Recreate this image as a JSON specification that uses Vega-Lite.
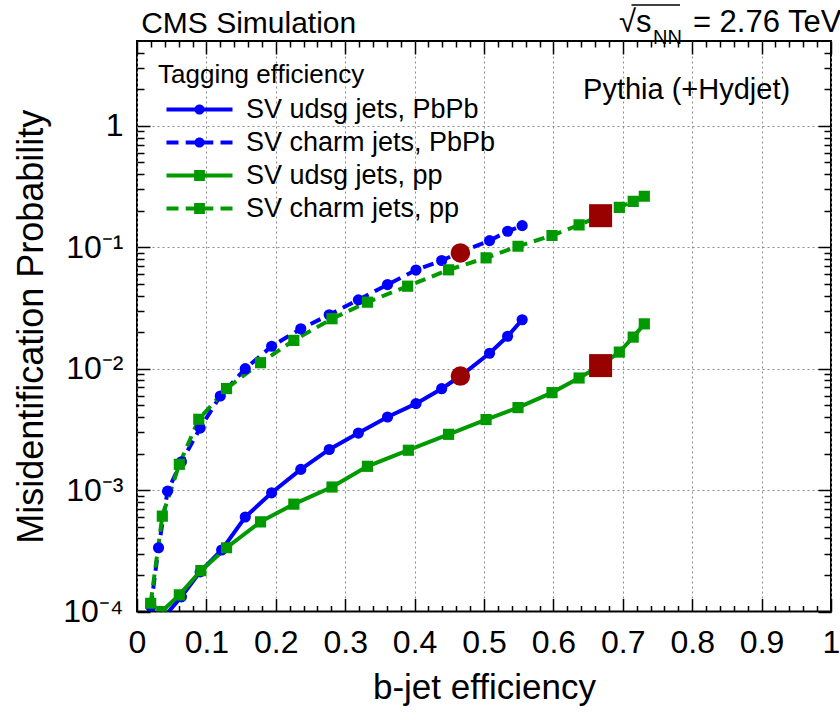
{
  "$schema": "https://vega.github.io/schema/vega-lite/v6.json",
  "width": 694,
  "height": 570.5,
  "autosize": {"type": "none"},
  "padding": {"left": 137, "top": 41, "right": 9, "bottom": 102.5},
  "background": "white",
  "config": {
    "view": {"stroke": "black", "strokeWidth": 2},
    "font": "Liberation Sans"
  },
  "datasets": {
    "curves": [
      {"series": "SV udsg jets, PbPb", "eff": 0.035, "mis": 0.000085},
      {"series": "SV udsg jets, PbPb", "eff": 0.064, "mis": 0.000132},
      {"series": "SV udsg jets, PbPb", "eff": 0.091, "mis": 0.000212},
      {"series": "SV udsg jets, PbPb", "eff": 0.122, "mis": 0.000321},
      {"series": "SV udsg jets, PbPb", "eff": 0.156, "mis": 0.000600},
      {"series": "SV udsg jets, PbPb", "eff": 0.194, "mis": 0.000950},
      {"series": "SV udsg jets, PbPb", "eff": 0.236, "mis": 0.00148},
      {"series": "SV udsg jets, PbPb", "eff": 0.277, "mis": 0.00216},
      {"series": "SV udsg jets, PbPb", "eff": 0.319, "mis": 0.00295},
      {"series": "SV udsg jets, PbPb", "eff": 0.361, "mis": 0.00400},
      {"series": "SV udsg jets, PbPb", "eff": 0.402, "mis": 0.00515},
      {"series": "SV udsg jets, PbPb", "eff": 0.439, "mis": 0.00684},
      {"series": "SV udsg jets, PbPb", "eff": 0.466, "mis": 0.00870},
      {"series": "SV udsg jets, PbPb", "eff": 0.508, "mis": 0.0134},
      {"series": "SV udsg jets, PbPb", "eff": 0.534, "mis": 0.0185},
      {"series": "SV udsg jets, PbPb", "eff": 0.555, "mis": 0.0253},
      {"series": "SV charm jets, PbPb", "eff": 0.020, "mis": 0.000110},
      {"series": "SV charm jets, PbPb", "eff": 0.031, "mis": 0.000335},
      {"series": "SV charm jets, PbPb", "eff": 0.044, "mis": 0.000980},
      {"series": "SV charm jets, PbPb", "eff": 0.064, "mis": 0.00171},
      {"series": "SV charm jets, PbPb", "eff": 0.091, "mis": 0.00324},
      {"series": "SV charm jets, PbPb", "eff": 0.120, "mis": 0.00596},
      {"series": "SV charm jets, PbPb", "eff": 0.156, "mis": 0.0100},
      {"series": "SV charm jets, PbPb", "eff": 0.194, "mis": 0.0153},
      {"series": "SV charm jets, PbPb", "eff": 0.236, "mis": 0.0213},
      {"series": "SV charm jets, PbPb", "eff": 0.277, "mis": 0.0278},
      {"series": "SV charm jets, PbPb", "eff": 0.319, "mis": 0.0369},
      {"series": "SV charm jets, PbPb", "eff": 0.361, "mis": 0.0493},
      {"series": "SV charm jets, PbPb", "eff": 0.402, "mis": 0.0649},
      {"series": "SV charm jets, PbPb", "eff": 0.439, "mis": 0.0778},
      {"series": "SV charm jets, PbPb", "eff": 0.466, "mis": 0.0910},
      {"series": "SV charm jets, PbPb", "eff": 0.508, "mis": 0.1135},
      {"series": "SV charm jets, PbPb", "eff": 0.534, "mis": 0.1355},
      {"series": "SV charm jets, PbPb", "eff": 0.555, "mis": 0.1507},
      {"series": "SV udsg jets, pp", "eff": 0.0356, "mis": 0.000100},
      {"series": "SV udsg jets, pp", "eff": 0.061, "mis": 0.000137},
      {"series": "SV udsg jets, pp", "eff": 0.092, "mis": 0.000217},
      {"series": "SV udsg jets, pp", "eff": 0.129, "mis": 0.000335},
      {"series": "SV udsg jets, pp", "eff": 0.178, "mis": 0.000548},
      {"series": "SV udsg jets, pp", "eff": 0.226, "mis": 0.000766},
      {"series": "SV udsg jets, pp", "eff": 0.281, "mis": 0.00106},
      {"series": "SV udsg jets, pp", "eff": 0.332, "mis": 0.00157},
      {"series": "SV udsg jets, pp", "eff": 0.391, "mis": 0.00213},
      {"series": "SV udsg jets, pp", "eff": 0.449, "mis": 0.00288},
      {"series": "SV udsg jets, pp", "eff": 0.503, "mis": 0.00381},
      {"series": "SV udsg jets, pp", "eff": 0.549, "mis": 0.00478},
      {"series": "SV udsg jets, pp", "eff": 0.598, "mis": 0.00635},
      {"series": "SV udsg jets, pp", "eff": 0.637, "mis": 0.00838},
      {"series": "SV udsg jets, pp", "eff": 0.668, "mis": 0.0106},
      {"series": "SV udsg jets, pp", "eff": 0.695, "mis": 0.0137},
      {"series": "SV udsg jets, pp", "eff": 0.715, "mis": 0.0182},
      {"series": "SV udsg jets, pp", "eff": 0.731, "mis": 0.0234},
      {"series": "SV charm jets, pp", "eff": 0.0197, "mis": 0.000117},
      {"series": "SV charm jets, pp", "eff": 0.0365, "mis": 0.000610},
      {"series": "SV charm jets, pp", "eff": 0.061, "mis": 0.00163},
      {"series": "SV charm jets, pp", "eff": 0.089, "mis": 0.00383},
      {"series": "SV charm jets, pp", "eff": 0.129, "mis": 0.00686},
      {"series": "SV charm jets, pp", "eff": 0.178, "mis": 0.0112},
      {"series": "SV charm jets, pp", "eff": 0.226, "mis": 0.0171},
      {"series": "SV charm jets, pp", "eff": 0.281, "mis": 0.0258},
      {"series": "SV charm jets, pp", "eff": 0.332, "mis": 0.0353},
      {"series": "SV charm jets, pp", "eff": 0.390, "mis": 0.0478},
      {"series": "SV charm jets, pp", "eff": 0.449, "mis": 0.0652},
      {"series": "SV charm jets, pp", "eff": 0.503, "mis": 0.0818},
      {"series": "SV charm jets, pp", "eff": 0.549, "mis": 0.102},
      {"series": "SV charm jets, pp", "eff": 0.598, "mis": 0.125},
      {"series": "SV charm jets, pp", "eff": 0.637, "mis": 0.153},
      {"series": "SV charm jets, pp", "eff": 0.668, "mis": 0.182},
      {"series": "SV charm jets, pp", "eff": 0.695, "mis": 0.213},
      {"series": "SV charm jets, pp", "eff": 0.715, "mis": 0.239},
      {"series": "SV charm jets, pp", "eff": 0.731, "mis": 0.263}
    ],
    "wp": [
      {"kind": "PbPb", "eff": 0.466, "mis": 0.0899},
      {"kind": "PbPb", "eff": 0.466, "mis": 0.00869},
      {"kind": "pp", "eff": 0.668, "mis": 0.182},
      {"kind": "pp", "eff": 0.668, "mis": 0.0106}
    ]
  },
  "resolve": {
    "axis": {"x": "independent", "y": "independent"},
    "scale": {"shape": "independent"}
  },
  "layer": [
    {
      "data": {"name": "curves"},
      "transform": [{"filter": "indexof(datum.series, 'udsg') >= 0"}],
      "mark": {"type": "line", "strokeWidth": 4, "clip": true},
      "encoding": {
        "x": {
          "field": "eff", "type": "quantitative",
          "scale": {"domain": [0, 1], "nice": false, "zero": false},
          "axis": {
            "orient": "bottom", "offset": -13,
            "values": [0,0.1,0.2,0.3,0.4,0.5,0.6,0.7,0.8,0.9,1],
            "title": "b-jet efficiency",
            "titleFont": "Liberation Sans", "titleFontSize": 35, "titleFontWeight": "normal", "titleColor": "black", "titlePadding": 12,
            "labelExpr": "datum.value<0.001 ? '0' : (datum.value>0.999 ? '1' : format(datum.value, '.1f'))",
            "labelFont": "Liberation Sans", "labelFontSize": 32, "labelColor": "black", "labelPadding": 16,
            "labelFlush": false, "labelOverlap": false, "labelBound": false, "labelAngle": 0,
            "domain": false, "ticks": true, "tickColor": "black", "tickWidth": 1.5, "tickSize": 13,
            "grid": true, "gridColor": "#8c8c8c", "gridDash": [2, 3], "gridWidth": 1
          }
        },
        "y": {
          "field": "mis", "type": "quantitative",
          "scale": {"type": "log", "domain": [0.0001, 5], "nice": false},
          "axis": {
            "orient": "left", "offset": -13,
            "values": [0.0001, 0.001, 0.01, 0.1, 1],
            "title": "Misidentification Probability",
            "titleFont": "Liberation Sans", "titleFontSize": 36, "titleFontWeight": "normal", "titleColor": "black", "titlePadding": 12,
            "labelExpr": "datum.value > 0.5 ? '1' : (datum.value > 0.05 ? '10⁻¹' : (datum.value > 0.005 ? '10⁻²' : (datum.value > 0.0005 ? '10⁻³' : '10⁻⁴')))",
            "labelFont": "Liberation Sans", "labelFontSize": 32, "labelColor": "black", "labelPadding": 14,
            "labelFlush": false, "labelOverlap": false, "labelBound": false,
            "domain": false, "ticks": true, "tickColor": "black", "tickWidth": 1.5, "tickSize": 13,
            "grid": true, "gridColor": "#8c8c8c", "gridDash": [2, 3], "gridWidth": 1
          }
        },
        "color": {
          "field": "series", "type": "nominal",
          "scale": {"domain": ["SV udsg jets, PbPb", "SV charm jets, PbPb", "SV udsg jets, pp", "SV charm jets, pp"], "range": ["#0000ff", "#0000ff", "#009900", "#009900"]},
          "legend": null
        }
      }
    },
    {
      "data": {"name": "curves"},
      "transform": [{"filter": "indexof(datum.series, 'charm') >= 0"}],
      "mark": {"type": "line", "strokeWidth": 4, "strokeDash": [11, 7], "clip": true},
      "encoding": {
        "x": {"field": "eff", "type": "quantitative", "scale": {"domain": [0, 1], "nice": false, "zero": false},
          "axis": {"orient": "top", "offset": -13, "title": null, "labels": false, "grid": false, "domain": false, "ticks": true, "tickColor": "black", "tickWidth": 1.5, "tickSize": 13,
            "values": [0,0.1,0.2,0.3,0.4,0.5,0.6,0.7,0.8,0.9,1]}},
        "y": {"field": "mis", "type": "quantitative", "scale": {"type": "log", "domain": [0.0001, 5], "nice": false},
          "axis": {"orient": "right", "offset": -13, "title": null, "labels": false, "grid": false, "domain": false, "ticks": true, "tickColor": "black", "tickWidth": 1.5, "tickSize": 13,
            "values": [0.0001, 0.001, 0.01, 0.1, 1]}},
        "color": {
          "field": "series", "type": "nominal",
          "scale": {"domain": ["SV udsg jets, PbPb", "SV charm jets, PbPb", "SV udsg jets, pp", "SV charm jets, pp"], "range": ["#0000ff", "#0000ff", "#009900", "#009900"]},
          "legend": null
        }
      }
    },
    {
      "data": {"name": "curves"},
      "transform": [{"filter": "indexof(datum.series, 'PbPb') >= 0"}],
      "mark": {"type": "point", "shape": "circle", "filled": true, "opacity": 1, "size": 125, "clip": true},
      "encoding": {
        "x": {"field": "eff", "type": "quantitative", "scale": {"domain": [0, 1], "nice": false, "zero": false},
          "axis": {"orient": "bottom", "offset": -6, "title": null, "labels": false, "grid": false, "domain": false, "ticks": true, "tickColor": "black", "tickWidth": 1.5, "tickSize": 6,
            "values": [0.02,0.04,0.06,0.08,0.12,0.14,0.16,0.18,0.22,0.24,0.26,0.28,0.32,0.34,0.36,0.38,0.42,0.44,0.46,0.48,0.52,0.54,0.56,0.58,0.62,0.64,0.66,0.68,0.72,0.74,0.76,0.78,0.82,0.84,0.86,0.88,0.92,0.94,0.96,0.98]}},
        "y": {"field": "mis", "type": "quantitative", "scale": {"type": "log", "domain": [0.0001, 5], "nice": false},
          "axis": {"orient": "left", "offset": -7, "title": null, "labels": false, "grid": false, "domain": false, "ticks": true, "tickColor": "black", "tickWidth": 1.5, "tickSize": 7,
            "values": [0.0002,0.0003,0.0004,0.0005,0.0006,0.0007,0.0008,0.0009,0.002,0.003,0.004,0.005,0.006,0.007,0.008,0.009,0.02,0.03,0.04,0.05,0.06,0.07,0.08,0.09,0.2,0.3,0.4,0.5,0.6,0.7,0.8,0.9,2,3,4]}},
        "color": {
          "field": "series", "type": "nominal",
          "scale": {"domain": ["SV udsg jets, PbPb", "SV charm jets, PbPb", "SV udsg jets, pp", "SV charm jets, pp"], "range": ["#0000ff", "#0000ff", "#009900", "#009900"]},
          "legend": null
        }
      }
    },
    {
      "data": {"name": "curves"},
      "transform": [{"filter": "indexof(datum.series, 'pp') >= 0 && indexof(datum.series, 'PbPb') < 0"}],
      "mark": {"type": "point", "shape": "square", "filled": true, "opacity": 1, "size": 125, "clip": true},
      "encoding": {
        "x": {"field": "eff", "type": "quantitative", "scale": {"domain": [0, 1], "nice": false, "zero": false},
          "axis": {"orient": "top", "offset": -6, "title": null, "labels": false, "grid": false, "domain": false, "ticks": true, "tickColor": "black", "tickWidth": 1.5, "tickSize": 6,
            "values": [0.02,0.04,0.06,0.08,0.12,0.14,0.16,0.18,0.22,0.24,0.26,0.28,0.32,0.34,0.36,0.38,0.42,0.44,0.46,0.48,0.52,0.54,0.56,0.58,0.62,0.64,0.66,0.68,0.72,0.74,0.76,0.78,0.82,0.84,0.86,0.88,0.92,0.94,0.96,0.98]}},
        "y": {"field": "mis", "type": "quantitative", "scale": {"type": "log", "domain": [0.0001, 5], "nice": false},
          "axis": {"orient": "right", "offset": -7, "title": null, "labels": false, "grid": false, "domain": false, "ticks": true, "tickColor": "black", "tickWidth": 1.5, "tickSize": 7,
            "values": [0.0002,0.0003,0.0004,0.0005,0.0006,0.0007,0.0008,0.0009,0.002,0.003,0.004,0.005,0.006,0.007,0.008,0.009,0.02,0.03,0.04,0.05,0.06,0.07,0.08,0.09,0.2,0.3,0.4,0.5,0.6,0.7,0.8,0.9,2,3,4]}},
        "color": {
          "field": "series", "type": "nominal",
          "scale": {"domain": ["SV udsg jets, PbPb", "SV charm jets, PbPb", "SV udsg jets, pp", "SV charm jets, pp"], "range": ["#0000ff", "#0000ff", "#009900", "#009900"]},
          "legend": null
        }
      }
    },
    {
      "data": {"name": "wp"},
      "transform": [{"filter": "datum.kind == 'PbPb'"}],
      "mark": {"type": "point", "shape": "circle", "filled": true, "opacity": 1, "color": "#990000", "size": 380},
      "encoding": {
        "x": {"field": "eff", "type": "quantitative", "scale": {"domain": [0, 1], "nice": false, "zero": false}, "axis": null},
        "y": {"field": "mis", "type": "quantitative", "scale": {"type": "log", "domain": [0.0001, 5], "nice": false}, "axis": null}
      }
    },
    {
      "data": {"name": "wp"},
      "transform": [{"filter": "datum.kind == 'pp'"}],
      "mark": {"type": "point", "shape": "square", "filled": true, "opacity": 1, "color": "#990000", "size": 530},
      "encoding": {
        "x": {"field": "eff", "type": "quantitative", "scale": {"domain": [0, 1], "nice": false, "zero": false}, "axis": null},
        "y": {"field": "mis", "type": "quantitative", "scale": {"type": "log", "domain": [0.0001, 5], "nice": false}, "axis": null}
      }
    },
    {
      "data": {"name": "curves"},
      "transform": [{"filter": "indexof(datum.series, 'PbPb') >= 0"}],
      "mark": {"type": "point", "filled": true, "fill": "#0000ff", "stroke": "#0000ff", "opacity": 0, "strokeWidth": 0, "clip": true},
      "encoding": {
        "x": {"field": "eff", "type": "quantitative", "scale": {"domain": [0, 1], "nice": false, "zero": false}, "axis": null},
        "y": {"field": "mis", "type": "quantitative", "scale": {"type": "log", "domain": [0.0001, 5], "nice": false}, "axis": null},
        "shape": {
          "field": "series", "type": "nominal",
          "scale": {"domain": ["SV udsg jets, PbPb", "SV charm jets, PbPb"],
                    "range": ["M-5.5,-0.33H5.5V0.33H-5.5ZM0.85,0A0.85,0.85,0,1,1,-0.85,0A0.85,0.85,0,1,1,0.85,0Z", "M-5.5,-0.33H-3.5V0.33H-5.5ZM-2.3,-0.33H2.3V0.33H-2.3ZM3.5,-0.33H5.5V0.33H3.5ZM0.85,0A0.85,0.85,0,1,1,-0.85,0A0.85,0.85,0,1,1,0.85,0Z"]},
          "legend": {
            "title": "Tagging efficiency", "orient": "none", "legendX": 21, "legendY": 21, "padding": 0,
            "titleFont": "Liberation Sans", "titleFontSize": 26, "titleFontWeight": "normal", "titleColor": "black", "titleLimit": 500, "titlePadding": 8,
            "labelFont": "Liberation Sans", "labelFontSize": 27, "labelColor": "black", "labelLimit": 500, "labelOffset": 33,
            "symbolSize": 144, "symbolStrokeWidth": 0, "symbolOpacity": 1, "symbolOffset": 28, "rowPadding": 5,
            "symbolFillColor": "#0000ff", "symbolStrokeColor": "#0000ff"
          }
        }
      }
    },
    {
      "data": {"name": "curves"},
      "transform": [{"filter": "indexof(datum.series, 'pp') >= 0 && indexof(datum.series, 'PbPb') < 0"}],
      "mark": {"type": "point", "filled": true, "fill": "#009900", "stroke": "#009900", "opacity": 0, "strokeWidth": 0, "clip": true},
      "encoding": {
        "x": {"field": "eff", "type": "quantitative", "scale": {"domain": [0, 1], "nice": false, "zero": false}, "axis": null},
        "y": {"field": "mis", "type": "quantitative", "scale": {"type": "log", "domain": [0.0001, 5], "nice": false}, "axis": null},
        "shape": {
          "field": "series", "type": "nominal",
          "scale": {"domain": ["SV udsg jets, pp", "SV charm jets, pp"],
                    "range": ["M-5.5,-0.33H5.5V0.33H-5.5ZM-0.9,-0.9H0.9V0.9H-0.9Z", "M-5.5,-0.33H-3.5V0.33H-5.5ZM-2.3,-0.33H2.3V0.33H-2.3ZM3.5,-0.33H5.5V0.33H3.5ZM-0.9,-0.9H0.9V0.9H-0.9Z"]},
          "legend": {
            "title": null, "orient": "none", "legendX": 21, "legendY": 121, "padding": 0,
            "labelFont": "Liberation Sans", "labelFontSize": 27, "labelColor": "black", "labelLimit": 500, "labelOffset": 33,
            "symbolSize": 144, "symbolStrokeWidth": 0, "symbolOpacity": 1, "symbolOffset": 28, "rowPadding": 5,
            "symbolFillColor": "#009900", "symbolStrokeColor": "#009900"
          }
        }
      }
    },
    {
      "data": {"values": [{"t": "CMS Simulation"}]},
      "mark": {"type": "text", "align": "left", "baseline": "alphabetic", "fontSize": 30, "font": "Liberation Sans", "color": "black"},
      "encoding": {
        "x": {"datum": 0.006, "type": "quantitative", "scale": {"domain": [0, 1], "nice": false, "zero": false}, "axis": null},
        "y": {"datum": 5.82, "type": "quantitative", "scale": {"type": "log", "domain": [0.0001, 5], "nice": false}, "axis": null},
        "text": {"field": "t"}
      }
    },
    {
      "data": {"values": [{"t": "√s"}]},
      "mark": {"type": "text", "align": "left", "baseline": "alphabetic", "fontSize": 31, "font": "Liberation Sans", "color": "black"},
      "encoding": {
        "x": {"datum": 0.6945, "type": "quantitative", "scale": {"domain": [0, 1], "nice": false, "zero": false}, "axis": null},
        "y": {"datum": 5.93, "type": "quantitative", "scale": {"type": "log", "domain": [0.0001, 5], "nice": false}, "axis": null},
        "text": {"field": "t"}
      }
    },
    {
      "data": {"values": [{"t": "NN"}]},
      "mark": {"type": "text", "align": "left", "baseline": "alphabetic", "fontSize": 20, "font": "Liberation Sans", "color": "black"},
      "encoding": {
        "x": {"datum": 0.7435, "type": "quantitative", "scale": {"domain": [0, 1], "nice": false, "zero": false}, "axis": null},
        "y": {"datum": 4.725, "type": "quantitative", "scale": {"type": "log", "domain": [0.0001, 5], "nice": false}, "axis": null},
        "text": {"field": "t"}
      }
    },
    {
      "data": {"values": [{"t": "overline"}]},
      "mark": {"type": "rule", "strokeWidth": 1.5, "color": "black"},
      "encoding": {
        "x": {"datum": 0.7125, "type": "quantitative", "scale": {"domain": [0, 1], "nice": false, "zero": false}, "axis": null},
        "x2": {"datum": 0.7824},
        "y": {"datum": 9.9, "type": "quantitative", "scale": {"type": "log", "domain": [0.0001, 5], "nice": false}, "axis": null}
      }
    },
    {
      "data": {"values": [{"t": "= 2.76 TeV"}]},
      "mark": {"type": "text", "align": "right", "baseline": "alphabetic", "fontSize": 31, "font": "Liberation Sans", "color": "black"},
      "encoding": {
        "x": {"datum": 1.015, "type": "quantitative", "scale": {"domain": [0, 1], "nice": false, "zero": false}, "axis": null},
        "y": {"datum": 5.93, "type": "quantitative", "scale": {"type": "log", "domain": [0.0001, 5], "nice": false}, "axis": null},
        "text": {"field": "t"}
      }
    },
    {
      "data": {"values": [{"t": "Pythia (+Hydjet)"}]},
      "mark": {"type": "text", "align": "left", "baseline": "alphabetic", "fontSize": 29, "font": "Liberation Sans", "color": "black"},
      "encoding": {
        "x": {"datum": 0.6427, "type": "quantitative", "scale": {"domain": [0, 1], "nice": false, "zero": false}, "axis": null},
        "y": {"datum": 1.68, "type": "quantitative", "scale": {"type": "log", "domain": [0.0001, 5], "nice": false}, "axis": null},
        "text": {"field": "t"}
      }
    }
  ]
}
